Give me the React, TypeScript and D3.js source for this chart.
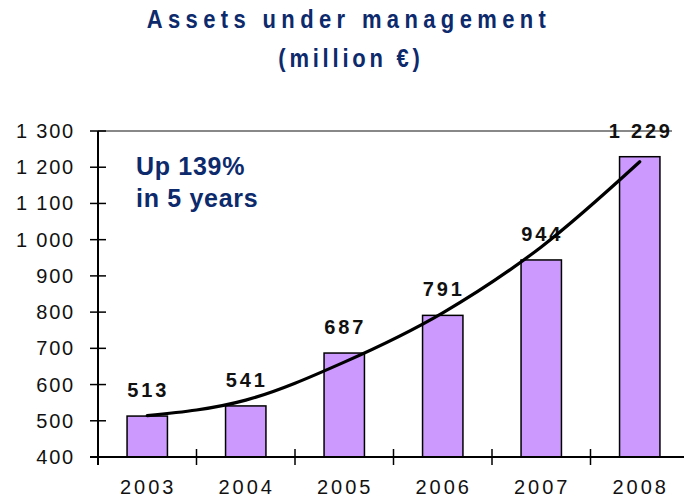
import React from 'react'
import * as d3 from 'd3'

const years = ['2003', '2004', '2005', '2006', '2007', '2008']
const assets = [513, 541, 687, 791, 944, 1229]
const trend = [514, 557, 662, 798, 980, 1215]
const yTicks = [400, 500, 600, 700, 800, 900, 1000, 1100, 1200, 1300]

const W = 684
const H = 500
const left = 98
const right = 689
const top = 131
const bottom = 457

const navy = '#0c2a6c'
const font = '"Liberation Sans", Arial, sans-serif'

// "1 300" style
const fmt = (v: number) => d3.format(',')(v).replace(/,/g, ' ')

export default function App() {
  const x = d3.scaleBand().domain(years).range([left, right])
  const y = d3.scaleLinear().domain([400, 1300]).range([bottom, top])
  const barW = x.bandwidth() * 0.41
  const cx = (d: string) => (x(d) as number) + x.bandwidth() / 2

  const line = d3
    .line<number>()
    .x((_, i) => cx(years[i]))
    .y(d => y(d))
    .curve(d3.curveMonotoneX)

  return (
    <svg width={W} height={H} style={{position: 'absolute', left: 0, top: 0}} fontFamily={font}>
      <rect width={W} height={H} fill="#fff" />

      {/* title, condensed look */}
      <g transform="translate(349,28) scale(0.88,1.05)">
        <text textAnchor="middle" fontSize={25} fontWeight="bold" fill={navy} letterSpacing={6.1}>
          Assets under management
        </text>
      </g>
      <g transform="translate(351,67) scale(0.88,1.05)">
        <text textAnchor="middle" fontSize={25} fontWeight="bold" fill={navy} letterSpacing={4.3}>
          (million €)
        </text>
      </g>

      {/* top border */}
      <line x1={left} x2={672} y1={top} y2={top} stroke="#888" strokeWidth={2} />

      {/* bars */}
      {years.map((d, i) => (
        <rect
          key={d}
          x={cx(d) - barW / 2}
          y={y(assets[i])}
          width={barW}
          height={bottom - y(assets[i])}
          fill="#cc99ff"
          stroke="#000"
          strokeWidth={1.5}
        />
      ))}

      {/* value labels */}
      {years.map((d, i) => (
        <text
          key={d}
          x={cx(d) + 1}
          y={y(assets[i]) - 19}
          textAnchor="middle"
          fontSize={20}
          fontWeight="bold"
          letterSpacing={2.8}
          fill="#111"
        >
          {fmt(assets[i])}
        </text>
      ))}

      {/* trend */}
      <path d={line(trend) || ''} fill="none" stroke="#000" strokeWidth={3.2} strokeLinecap="round" />

      {/* y axis */}
      <line x1={left} x2={left} y1={top} y2={bottom + 8} stroke="#000" strokeWidth={2} />
      {yTicks.map(t => (
        <g key={t}>
          <line x1={left - 8} x2={left + 8} y1={y(t)} y2={y(t)} stroke="#000" strokeWidth={1.5} />
          <text x={75} y={y(t) + 7} textAnchor="end" fontSize={20} letterSpacing={1.8} fill="#111">
            {fmt(t)}
          </text>
        </g>
      ))}

      {/* x axis */}
      <line x1={left - 8} x2={W} y1={bottom} y2={bottom} stroke="#000" strokeWidth={2} />
      {years.slice(1).map(d => (
        <line key={d} x1={x(d) as number} x2={x(d) as number} y1={bottom - 8} y2={bottom + 8} stroke="#000" strokeWidth={1.5} />
      ))}
      {years.map(d => (
        <text key={d} x={cx(d) + 1} y={494} textAnchor="middle" fontSize={20} letterSpacing={3} fill="#111">
          {d}
        </text>
      ))}

      {/* annotation */}
      <text x={136} y={175} fontSize={25} letterSpacing={0.7} fontWeight="bold" fill={navy}>
        Up 139%
      </text>
      <text x={136} y={207} fontSize={25} letterSpacing={0.7} fontWeight="bold" fill={navy}>
        in 5 years
      </text>
    </svg>
  )
}
